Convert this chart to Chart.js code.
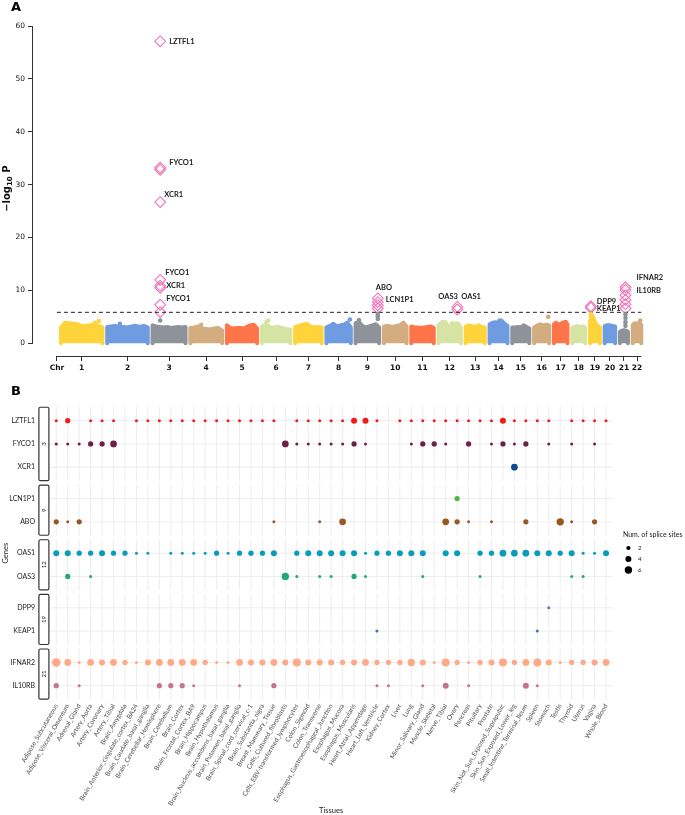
<!DOCTYPE html>
<html>
<head>
<meta charset="utf-8">
<title>Manhattan plot and splice-site dot plot</title>
<script src="https://cdn.jsdelivr.net/npm/chart.js@4/dist/chart.umd.min.js"></script>
<style>
  html, body { margin:0; padding:0; background:#ffffff; }
  canvas { display:block; }
</style>
</head>
<body>
<canvas id="chartA" width="685" height="380"></canvas>
<canvas id="chartB" width="685" height="435"></canvas>
<script>
// ===================== PANEL A DATA (Manhattan) =====================
const chrLabels = ['1','2','3','4','5','6','7','8','9','10','11','12','13','14','15','16','17','18','19','20','21','22'];
const chrLengthMb = [249.3,243.2,198.0,191.2,180.9,171.1,159.1,146.4,141.2,135.5,135.0,133.9,115.2,107.3,102.5,90.4,81.2,78.1,59.1,63.0,48.1,51.3];
const chrColors = ['#FFD43B','#6F9BE0','#8D9399','#D3AD7F','#FF7448','#D6E4A3'];
// top -log10 P of the background SNP cloud, read left to right along each chromosome
const chrTopLogP = [
  [3.0,3.9,3.8,3.7,3.6,3.2,3.3,3.4,3.5,3.3,3.0],
  [3.1,3.2,3.3,3.1,3.1,3.0,3.2,3.3,3.1,3.3,3.0],
  [3.4,3.2,3.1,3.0,3.1,2.9,3.0,3.1,3.0,3.1],
  [2.9,3.0,3.2,2.8,2.7,2.6,2.8,2.9,2.4],
  [3.4,2.9,2.8,2.9,2.9,2.8,3.1,3.4,3.5,2.8],
  [3.1,3.6,3.0,3.0,3.1,2.9,2.7,2.6],
  [3.1,3.3,3.5,3.7,3.2,3.0,3.1,3.0],
  [3.0,3.3,3.7,3.2,3.4,3.5,3.9,3.0],
  [3.8,4.0,3.3,3.0,3.2,3.4,3.6,3.0],
  [3.2,3.3,3.2,3.1,3.3,3.4,3.9,3.2],
  [3.2,3.0,3.0,2.9,3.0,3.1,3.2,2.9],
  [3.4,4.0,4.1,3.3,3.2,3.7,3.8,3.0],
  [3.1,3.4,3.2,3.1,3.4,3.1,3.0],
  [3.6,3.9,4.0,3.8,4.3,3.7,3.3],
  [3.0,3.0,3.1,3.0,3.4,3.1,2.8],
  [3.0,3.3,3.6,3.4,3.5,3.4],
  [3.6,3.9,3.5,3.7,3.9,4.0,3.6],
  [3.0,3.1,3.3,3.0,3.2,3.0],
  [4.2,5.2,4.0,3.3,3.0],
  [3.3,3.4,3.4,3.3,3.2],
  [2.2,2.4,2.5,2.4,2.2],
  [3.5,3.8,3.7,3.9,3.5]
];
// isolated background SNPs standing above the cloud
const peakChr   = ['1','1','2','3','4','6','6','6','8','9','9','9','9','12','12','14','16','17','19','19','21','21','21','21','22'];
const peakPosMb = [204,228,76,45.9,65,29,38,95,141,20,133.2,133.2,133.2,25,80,60,85,70,4.7,6.0,33.2,33.2,33.2,33.2,45];
const peakLogP  = [3.9,4.2,3.7,4.3,3.5,4.1,4.3,3.1,4.5,4.4,4.6,5.1,5.6,4.0,3.8,4.3,5.0,4.0,5.6,5.0,3.3,4.0,4.8,5.5,4.3];
// significant splice-QTL hits (diamonds)
const hitChr   = ['3','3','3','3','3','3','3','3','3','9','9','9','9','12','12','19','19','21','21','21','21','21','21'];
const hitPosMb = [45.8,46.0,46.0,46.06,46.0,46.06,46.06,46.0,45.9,133.2,133.2,133.2,133.2,112.9,112.9,4.7,4.7,33.2,33.2,33.2,33.2,33.2,33.2];
const hitLogP  = [57.1,33.2,32.8,26.7,12.0,10.9,10.5,7.3,5.9,8.5,7.8,7.2,6.6,6.9,6.4,7.0,6.7,10.6,10.1,9.1,8.2,7.4,6.6];
// gene annotations
const labelText  = ['LZTFL1','FYCO1','XCR1','FYCO1','XCR1','FYCO1','ABO','LCN1P1','OAS3','OAS1','DPP9','KEAP1','IFNAR2','IL10RB'];
const labelChr   = ['3','3','3','3','3','3','9','9','12','12','19','19','21','21'];
const labelPosMb = [45.9,45.9,45.9,45.9,45.9,45.9,133.2,133.2,112.9,112.9,4.7,4.7,33.2,33.2];
const labelLogP  = [57.1,34.15,28.1,13.3,10.9,8.4,10.5,8.3,8.8,8.8,7.9,6.6,12.5,10.0];
const significanceLogP = 5.86;
const yTicksA = [0,10,20,30,40,50,60];

// ===================== PANEL B DATA (splice sites) =====================
const tissues = ['Adipose_Subcutaneous','Adipose_Visceral_Omentum','Adrenal_Gland','Artery_Aorta','Artery_Coronary','Artery_Tibial','Brain_Amygdala','Brain_Anterior_cingulate_cortex_BA24','Brain_Caudate_basal_ganglia','Brain_Cerebellar_Hemisphere','Brain_Cerebellum','Brain_Cortex','Brain_Frontal_Cortex_BA9','Brain_Hippocampus','Brain_Hypothalamus','Brain_Nucleus_accumbens_basal_ganglia','Brain_Putamen_basal_ganglia','Brain_Spinal_cord_cervical_c-1','Brain_Substantia_nigra','Breast_Mammary_Tissue','Cells_Cultured_fibroblasts','Cells_EBV-transformed_lymphocytes','Colon_Sigmoid','Colon_Transverse','Esophagus_Gastroesophageal_Junction','Esophagus_Mucosa','Esophagus_Muscularis','Heart_Atrial_Appendage','Heart_Left_Ventricle','Kidney_Cortex','Liver','Lung','Minor_Salivary_Gland','Muscle_Skeletal','Nerve_Tibial','Ovary','Pancreas','Pituitary','Prostate','Skin_Not_Sun_Exposed_Suprapubic','Skin_Sun_Exposed_Lower_leg','Small_Intestine_Terminal_Ileum','Spleen','Stomach','Testis','Thyroid','Uterus','Vagina','Whole_Blood'];
const facetChr = ['3','9','12','19','21'];
const facetGenes = [['LZTFL1','FYCO1','XCR1'],['LCN1P1','ABO'],['OAS1','OAS3'],['DPP9','KEAP1'],['IFNAR2','IL10RB']];
const _ = null;
// number of splice sites per tissue (same order as tissues)
const spliceLZTFL1 = [1,3,_,1,1,1,_,1,1,1, 1,1,1,1,1,1,1,1,1,1, _,1,1,1,1,1,4,4,1,_, 1,1,1,1,1,1,1,1,1,4, 1,1,1,1,_,1,1,1,1];
const spliceFYCO1  = [1,1,1,3,3,5,_,_,_,_, _,_,_,_,_,_,_,_,_,_, 5,1,1,1,1,1,3,1,_,_, _,1,3,3,1,_,3,_,1,3, 1,3,_,1,_,1,_,1,_];
const spliceXCR1   = [_,_,_,_,_,_,_,_,_,_, _,_,_,_,_,_,_,_,_,_, _,_,_,_,_,_,_,_,_,_, _,_,_,_,_,_,_,_,_,_, 5,_,_,_,_,_,_,_,_];
const spliceLCN1P1 = [_,_,_,_,_,_,_,_,_,_, _,_,_,_,_,_,_,_,_,_, _,_,_,_,_,_,_,_,_,_, _,_,_,_,_,3,_,_,_,_, _,_,_,_,_,_,_,_,_];
const spliceABO    = [3,1,3,_,_,_,_,_,_,_, _,_,_,_,_,_,_,_,_,1, _,_,_,1,_,5,_,_,_,_, _,_,_,_,5,3,1,_,1,_, _,3,_,_,6,1,_,3,_];
const spliceOAS1   = [4,4,3,3,4,3,3,1,1,_, 1,1,1,1,3,1,3,3,3,4, _,3,4,4,4,4,4,1,3,3, 4,4,4,_,4,4,_,3,3,5, 5,5,4,4,3,4,1,1,4];
const spliceOAS3   = [_,3,_,1,_,_,_,_,_,_, _,_,_,_,_,_,_,_,_,_, 6,1,_,1,1,_,3,1,_,_, _,_,1,_,_,_,_,1,_,_, _,_,_,_,_,1,1,_,_];
const spliceDPP9   = [_,_,_,_,_,_,_,_,_,_, _,_,_,_,_,_,_,_,_,_, _,_,_,_,_,_,_,_,_,_, _,_,_,_,_,_,_,_,_,_, _,_,_,1,_,_,_,_,_];
const spliceKEAP1  = [_,_,_,_,_,_,_,_,_,_, _,_,_,_,_,_,_,_,_,_, _,_,_,_,_,_,_,_,1,_, _,_,_,_,_,_,_,_,_,_, _,_,1,_,_,_,_,_,_];
const spliceIFNAR2 = [8,5,1,5,4,5,3,1,4,5, 5,5,5,3,1,1,5,4,4,5, 4,7,4,4,4,3,4,5,3,3, 3,6,4,1,7,3,1,3,4,7, 3,5,7,4,1,3,3,4,5];
const spliceIL10RB = [3,_,1,_,_,_,_,_,_,3, 3,3,1,_,_,_,1,_,_,3, _,_,_,_,_,_,_,_,1,1, _,_,1,_,4,_,1,_,_,_, _,4,1,_,_,_,_,_,_];
const geneColors = {LZTFL1:'#F21B1B', FYCO1:'#6E1F47', XCR1:'#0D4B91', LCN1P1:'#47B848', ABO:'#99581F', OAS1:'#0A9CB8', OAS3:'#1FA878', DPP9:'#9B57B0', KEAP1:'#4173B4', IFNAR2:'#FFA987', IL10RB:'#C27490'};
const legendSizes = [2,4,6];

// ===================== PANEL A CHART =====================
const GAP_MB = 28.7;
const chrOffset = [];
(function(){ let acc = 0; chrLengthMb.forEach(l => { chrOffset.push(acc); acc += l + GAP_MB; }); })();
const gpos = (c, mb) => chrOffset[chrLabels.indexOf(c)] + mb;
const genomeEnd = chrOffset[21] + chrLengthMb[21];
const axisStartMb = -24;
const chrCenters = chrLabels.map((c,i) => chrOffset[i] + chrLengthMb[i]/2);

const datasetsA = [];
chrLabels.forEach((c, i) => {
  const env = chrTopLogP[i], n = env.length, off = chrOffset[i], len = chrLengthMb[i];
  const pts = [{x: off, y: 0}];
  env.forEach((h, j) => pts.push({x: off + j/(n-1)*len, y: h}));
  pts.push({x: off + len, y: 0});
  const col = chrColors[i % 6];
  datasetsA.push({type: 'line', data: pts, fill: 'origin', borderColor: col, backgroundColor: col,
    borderWidth: 4, borderJoinStyle: 'round', borderCapStyle: 'round', pointRadius: 0, tension: 0, clip: false});
});
datasetsA.push({
  type: 'scatter',
  data: peakChr.map((c,i) => ({x: gpos(c, peakPosMb[i]), y: peakLogP[i]})),
  backgroundColor: peakChr.map(c => chrColors[chrLabels.indexOf(c) % 6]),
  borderWidth: 0, pointRadius: 2.3, clip: false
});
datasetsA.push({
  type: 'line',
  data: [{x: axisStartMb, y: significanceLogP}, {x: genomeEnd, y: significanceLogP}],
  borderColor: '#222', borderWidth: 1, borderDash: [4,3], pointRadius: 0, fill: false
});
datasetsA.push({
  type: 'scatter',
  data: hitChr.map((c,i) => ({x: gpos(c, hitPosMb[i]), y: hitLogP[i]})),
  pointStyle: 'rectRot', pointRadius: 5.4, borderColor: '#F272B8', borderWidth: 1.1,
  backgroundColor: 'rgba(255,255,255,0)', clip: false
});

const labelDxPx = [9,9,4,5,6,6,-2,8,-19,4,6,6,11,11];
const pluginA = {
  id: 'decorA',
  afterDraw(chart) {
    const {ctx, chartArea: ca} = chart;
    const xs = chart.scales.x, ys = chart.scales.y;
    ctx.save();
    ctx.strokeStyle = '#333'; ctx.lineWidth = 1;
    const ax = Math.round(ca.left) - 0.5;
    ctx.beginPath(); ctx.moveTo(ax, ys.getPixelForValue(yTicksA[0])); ctx.lineTo(ax, ys.getPixelForValue(yTicksA[yTicksA.length-1])); ctx.stroke();
    const ay = Math.round(ca.bottom) + 0.5;
    ctx.beginPath(); ctx.moveTo(xs.getPixelForValue(axisStartMb), ay); ctx.lineTo(xs.getPixelForValue(genomeEnd), ay); ctx.stroke();
    // gene labels
    ctx.fillStyle = '#222'; ctx.font = 'bold 7.5px Lato'; ctx.textAlign = 'left'; ctx.textBaseline = 'middle';
    labelText.forEach((t, i) => {
      const px = xs.getPixelForValue(gpos(labelChr[i], labelPosMb[i])) + labelDxPx[i];
      const py = ys.getPixelForValue(labelLogP[i]);
      ctx.fillText(t, px, py);
    });
    // panel letter
    ctx.fillStyle = '#000'; ctx.font = 'bold 13px "DejaVu Sans"'; ctx.textBaseline = 'alphabetic';
    ctx.fillText('A', 11, 11);
    // y title  −log10 P
    ctx.translate(9.5, (ys.getPixelForValue(0) + ys.getPixelForValue(60)) / 2 + 4);
    ctx.rotate(-Math.PI/2);
    const f1 = 'bold 10px "DejaVu Sans"', f2 = 'bold 7px "DejaVu Sans"';
    ctx.font = f1; const w1 = ctx.measureText('\u2212log').width; const w3 = ctx.measureText(' P').width;
    ctx.font = f2; const w2 = ctx.measureText('10').width;
    let sx = -(w1 + w2 + w3) / 2;
    ctx.fillStyle = '#111';
    ctx.font = f1; ctx.fillText('\u2212log', sx, 0); sx += w1;
    ctx.font = f2; ctx.fillText('10', sx, 2.5); sx += w2;
    ctx.font = f1; ctx.fillText(' P', sx, 0);
    ctx.restore();
  }
};

new Chart(document.getElementById('chartA'), {
  type: 'scatter',
  data: {datasets: datasetsA},
  options: {
    responsive: false, animation: false, devicePixelRatio: 1,
    layout: {padding: {left: 0, top: 26, right: 15, bottom: 0}},
    plugins: {legend: {display: false}, tooltip: {enabled: false}},
    scales: {
      x: {
        type: 'linear', min: -167.66, max: 3656.1,
        afterBuildTicks: s => { s.ticks = [axisStartMb].concat(chrCenters).map(v => ({value: v})); },
        afterFit: s => { s.height = 24; },
        grid: {display: true, drawOnChartArea: false, drawTicks: true, tickLength: 5, color: '#333'},
        border: {display: false},
        ticks: {autoSkip: false, maxRotation: 0, minRotation: 0, padding: 3, color: '#111',
          font: {family: 'DejaVu Sans', size: 7.5, weight: 'bold'},
          callback: (v, i) => i === 0 ? 'Chr' : chrLabels[i-1]}
      },
      y: {
        type: 'linear', min: -2.4, max: 60,
        afterBuildTicks: s => { s.ticks = yTicksA.map(v => ({value: v})); },
        afterFit: s => { s.width = 33; },
        grid: {display: true, drawOnChartArea: false, drawTicks: true, tickLength: 5, color: '#333'},
        border: {display: false},
        ticks: {padding: 3, color: '#111', font: {family: 'DejaVu Sans', size: 7.5}}
      }
    }
  },
  plugins: [pluginA]
});

// ===================== PANEL B CHART =====================
const spliceByGene = {LZTFL1: spliceLZTFL1, FYCO1: spliceFYCO1, XCR1: spliceXCR1, LCN1P1: spliceLCN1P1, ABO: spliceABO,
  OAS1: spliceOAS1, OAS3: spliceOAS3, DPP9: spliceDPP9, KEAP1: spliceKEAP1, IFNAR2: spliceIFNAR2, IL10RB: spliceIL10RB};
// facet layout (row units)
const EXPAND = 0.6, PANEL_GAP = 0.15;
const facets = [];
const rowValue = {}; const rowOrder = []; const rowVals = [];
(function(){
  let cur = -EXPAND;
  facetGenes.forEach((genes, fi) => {
    const top = cur;
    const rows = genes.map((g, j) => { const v = cur + EXPAND + j; rowValue[g] = v; rowOrder.push(g); rowVals.push(v); return v; });
    const bottom = rows[rows.length-1] + EXPAND;
    facets.push({label: facetChr[fi], top, bottom, rows});
    cur = bottom + PANEL_GAP;
  });
})();
const yMaxB = facets[facets.length-1].bottom;
const sizeR = v => 1.5 * Math.sqrt(v);

const datasetsB = rowOrder.map(g => {
  const pts = [];
  spliceByGene[g].forEach((v, k) => { if (v !== null) pts.push({x: k, y: rowValue[g], v: v}); });
  return {label: g, data: pts, backgroundColor: geneColors[g], borderWidth: 0,
    pointRadius: ctx => (ctx.raw ? sizeR(ctx.raw.v) : 0), pointHoverRadius: ctx => (ctx.raw ? sizeR(ctx.raw.v) : 0), clip: false};
});

const pluginB = {
  id: 'decorB',
  beforeDatasetsDraw(chart) {
    const {ctx, chartArea: ca} = chart;
    const xs = chart.scales.x, ys = chart.scales.y;
    ctx.save();
    facets.forEach(f => {
      const t = ys.getPixelForValue(f.top), b = ys.getPixelForValue(f.bottom);
      ctx.strokeStyle = '#EBEBEB'; ctx.lineWidth = 0.9;
      tissues.forEach((_t, k) => {
        const x = xs.getPixelForValue(k);
        ctx.beginPath(); ctx.moveTo(x, t); ctx.lineTo(x, b); ctx.stroke();
      });
      f.rows.forEach(r => {
        const y = ys.getPixelForValue(r);
        ctx.beginPath(); ctx.moveTo(ca.left, y); ctx.lineTo(ca.right, y); ctx.stroke();
      });
      // strip
      const sx = ca.left - 10.5, sw = 10;
      ctx.strokeStyle = '#333'; ctx.lineWidth = 1.2;
      ctx.beginPath();
      if (ctx.roundRect) ctx.roundRect(sx, t + 0.5, sw, b - t - 1, 1.5); else ctx.rect(sx, t + 0.5, sw, b - t - 1);
      ctx.stroke();
      ctx.save();
      ctx.translate(sx + sw/2, (t + b)/2); ctx.rotate(-Math.PI/2);
      ctx.fillStyle = '#1a1a1a'; ctx.font = '6px Lato'; ctx.textAlign = 'center'; ctx.textBaseline = 'middle';
      ctx.fillText(f.label, 0, 0);
      ctx.restore();
    });
    ctx.restore();
  },
  afterDraw(chart) {
    const {ctx, chartArea: ca} = chart;
    ctx.save();
    // legend
    const lx = ca.right + 10;
    ctx.fillStyle = '#1a1a1a'; ctx.font = '7px Lato'; ctx.textAlign = 'left'; ctx.textBaseline = 'middle';
    ctx.fillText('Num. of splice sites', lx, 155);
    legendSizes.forEach((s, i) => {
      const cy = 168 + i * 11;
      ctx.fillStyle = '#000'; ctx.beginPath(); ctx.arc(lx + 5.5, cy, sizeR(s), 0, Math.PI*2); ctx.fill();
      ctx.fillStyle = '#1a1a1a'; ctx.font = '6px Lato'; ctx.fillText(String(s), lx + 15, cy);
    });
    // axis titles
    ctx.font = '7.5px Lato'; ctx.textAlign = 'center'; ctx.textBaseline = 'middle';
    ctx.fillText('Tissues', (ca.left + ca.right)/2, 431);
    ctx.save(); ctx.translate(6, (ca.top + ca.bottom)/2); ctx.rotate(-Math.PI/2); ctx.fillText('Genes', 0, 0); ctx.restore();
    // panel letter
    ctx.fillStyle = '#000'; ctx.font = 'bold 13px "DejaVu Sans"'; ctx.textAlign = 'left'; ctx.textBaseline = 'alphabetic';
    ctx.fillText('B', 11, 14.5);
    ctx.restore();
  }
};

new Chart(document.getElementById('chartB'), {
  type: 'scatter',
  data: {datasets: datasetsB},
  options: {
    responsive: false, animation: false, devicePixelRatio: 1,
    layout: {padding: {left: 0, top: 26.75, right: 72.1, bottom: 0}},
    plugins: {legend: {display: false}, tooltip: {enabled: false}},
    scales: {
      x: {
        type: 'linear', min: -0.6, max: tissues.length - 0.4,
        afterBuildTicks: s => { s.ticks = tissues.map((t, i) => ({value: i})); },
        afterFit: s => { s.height = 115.35; },
        grid: {display: false, drawTicks: false}, border: {display: false},
        ticks: {autoSkip: false, minRotation: 60, maxRotation: 60, padding: 3, color: '#4d4d4d',
          font: {family: 'Lato', size: 6.5}, callback: (v, i) => tissues[i]}
      },
      y: {
        type: 'linear', reverse: true, min: -EXPAND, max: yMaxB,
        afterBuildTicks: s => { s.ticks = rowVals.map(v => ({value: v})); },
        afterFit: s => { s.width = 49.4; },
        grid: {display: false, drawTicks: false}, border: {display: false},
        ticks: {padding: 14.4, color: '#1a1a1a', font: {family: 'Lato', size: 7}, callback: (v, i) => rowOrder[i]}
      }
    }
  },
  plugins: [pluginB]
});
</script>
</body>
</html>
